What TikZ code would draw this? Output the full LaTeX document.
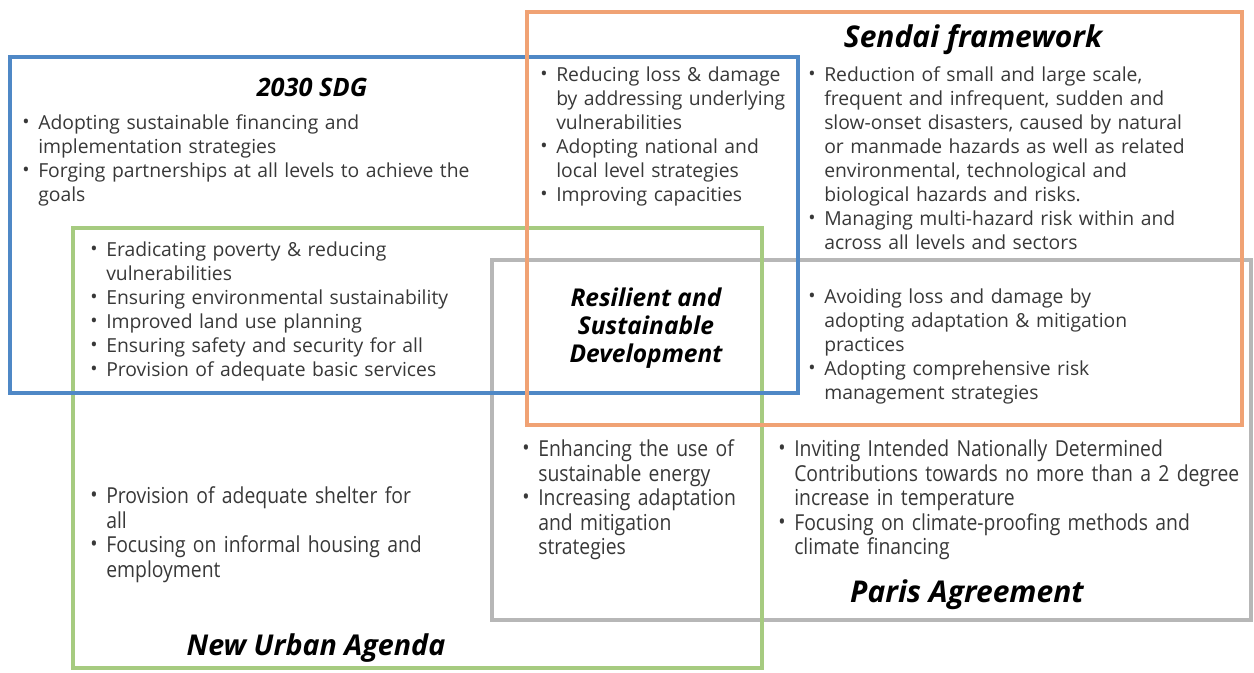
\documentclass[tikz,border=0pt]{standalone}
\usepackage{fontspec}
\setmainfont{Open Sans}
\newfontfamily\narrowfont{Open Sans}[FakeStretch=0.88]
\usetikzlibrary{positioning}

\definecolor{sdgblue}{HTML}{4F88C6}
\definecolor{sendaiorange}{HTML}{F0A274}
\definecolor{nuagreen}{HTML}{A6CB80}
\definecolor{parisgray}{HTML}{B7B7B7}
\definecolor{bodygray}{HTML}{383838}

% one bullet point, hanging indent for wrapped lines (\nl breaks a line)
\newcommand{\itm}{\par\noindent\hangindent=12pt\hangafter=1%
    \makebox[12pt][l]{\raisebox{0.1ex}{\textbullet}}}
\newcommand{\nl}{\newline}

\begin{document}
\begin{tikzpicture}[x=0.75pt, y=-0.75pt,
    % Styles
    frame/.style={draw=#1, line width=3pt},
    frame/.default={gray},
    points/.style={
        anchor=north west, inner sep=0pt, text width=#1,
        font=\fontsize{14.5}{18}\selectfont, text=bodygray,
    },
    points/.default={380pt},
    narrowpoints/.style={points=#1, font=\narrowfont\fontsize{16.5}{18.4}\selectfont},
    narrowpoints/.default={380pt},
    heading/.style={
        font=\fontsize{#1}{24}\selectfont\bfseries\itshape, inner sep=0pt,
    },
    heading/.default={22.5},
]
\useasboundingbox (0,0) rectangle (1254,672);

% ================================================================
% FRAMES
% ================================================================
\draw[frame=parisgray, line width=2.4pt] (492,260) rectangle (1251,620);
\draw[frame=nuagreen, line width=2.4pt] (73,228) rectangle (762,668);
\draw[frame=sdgblue] (10,57) rectangle (798,393);
\draw[frame=sendaiorange] (527,12) rectangle (1242,425);

% ================================================================
% HEADINGS
% ================================================================
\node[heading=19] (sdg) at (312,87) {2030 SDG};
\node[heading] (sendai) at (973,40) {Sendai framework};
\node[heading] (paris) at (967,595) {Paris Agreement};
\node[heading=21.5] (nua) at (316,648) {New Urban Agenda};
\node[heading, font=\fontsize{18.4}{21}\selectfont\bfseries\itshape, align=center]
    (core) at (646,328) {Resilient and\\Sustainable\\Development};

% ================================================================
% 2030 SDG
% ================================================================
\node[points] (sdgonly) at (22,105)
    {\itm Adopting sustainable financing and\nl implementation strategies
     \itm Forging partnerships at all levels to achieve the\nl goals\par};

% 2030 SDG + Sendai
\node[points] (sdgsendai) at (540,57)
    {\itm Reducing loss \& damage\nl by addressing underlying\nl vulnerabilities
     \itm Adopting national and\nl local level strategies
     \itm Improving capacities\par};

% 2030 SDG + New Urban Agenda
\node[points] (sdgnua) at (90,232)
    {\itm Eradicating poverty \& reducing\nl vulnerabilities
     \itm Ensuring environmental sustainability
     \itm Improved land use planning
     \itm Ensuring safety and security for all
     \itm Provision of adequate basic services\par};

% ================================================================
% SENDAI
% ================================================================
\node[points=430pt] (sendaionly) at (808,57)
    {\itm Reduction of small and large scale,\nl frequent and infrequent, sudden and\nl slow-onset disasters, caused by natural\nl or manmade hazards as well as related\nl environmental, technological and\nl biological hazards and risks.
     \itm Managing multi-hazard risk within and\nl across all levels and sectors\par};

% Sendai + Paris
\node[points] (sendaiparis) at (808,279)
    {\itm Avoiding loss and damage by\nl adopting adaptation \& mitigation\nl practices
     \itm Adopting comprehensive risk\nl management strategies\par};

% ================================================================
% PARIS + NEW URBAN AGENDA
% ================================================================
\node[narrowpoints] (parisnua) at (522,432)
    {\itm Enhancing the use of\nl sustainable energy
     \itm Increasing adaptation\nl and mitigation\nl strategies\par};

\node[narrowpoints=430pt] (parisonly) at (778,432)
    {\itm Inviting Intended Nationally Determined\nl Contributions towards no more than a 2 degree\nl increase in temperature
     \itm Focusing on climate-proofing methods and\nl climate financing\par};

\node[narrowpoints] (nuaonly) at (90,479)
    {\itm Provision of adequate shelter for\nl all
     \itm Focusing on informal housing and\nl employment\par};

\end{tikzpicture}
\end{document}
